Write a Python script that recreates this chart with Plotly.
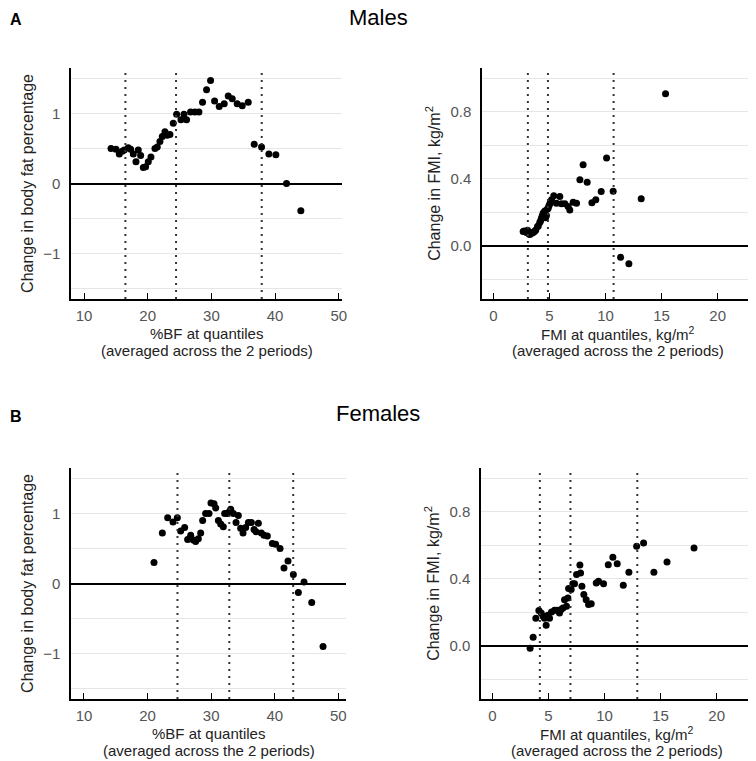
import plotly.graph_objects as go

# =========================================
# DATOS
# =========================================

# Hombres, %BF
males_bf_x = [14.24, 15.02, 15.54, 16.0, 16.33, 16.95, 17.32, 17.74, 18.16, 18.52, 18.89,
              19.31, 19.67, 20.09, 20.51, 21.14, 21.50, 21.92, 22.29, 22.71, 23.07, 23.49,
              24.01, 24.54, 25.22, 25.69, 26.10, 26.73, 27.41, 28.04, 28.61, 29.24, 29.87,
              30.50, 31.23, 32.01, 32.64, 33.27, 34.05, 34.84, 35.78, 36.72, 37.87, 39.02,
              40.12, 41.79, 44.04]
males_bf_y = [0.50, 0.49, 0.42, 0.46, 0.48, 0.51, 0.49, 0.42, 0.31, 0.48, 0.40,
              0.23, 0.24, 0.31, 0.38, 0.50, 0.52, 0.60, 0.67, 0.74, 0.69, 0.70,
              0.86, 0.99, 0.91, 0.99, 0.91, 1.02, 1.02, 1.02, 1.16, 1.34, 1.47,
              1.18, 1.10, 1.14, 1.25, 1.21, 1.14, 1.11, 1.16, 0.56, 0.52, 0.42,
              0.41, 0.0, -0.39]

# Hombres, FMI
males_fmi_x = [2.65, 2.75, 2.94, 3.05, 3.18, 3.25, 3.39, 3.50, 3.60, 3.70, 3.78, 3.93, 4.00,
               4.13, 4.20, 4.28, 4.35, 4.43, 4.50, 4.58, 4.65, 4.73, 4.80, 4.88, 4.95, 5.03,
               5.10, 5.18, 5.38, 5.62, 5.92, 6.07, 6.37, 6.66, 6.81, 7.11, 7.41, 7.71, 8.00,
               8.36, 8.78, 9.13, 9.61, 10.09, 10.68, 11.34, 12.08, 13.18, 15.35]
males_fmi_y = [0.087, 0.09, 0.081, 0.095, 0.073, 0.07, 0.077, 0.08, 0.085, 0.09, 0.097, 0.117, 0.12,
               0.141, 0.15, 0.166, 0.18, 0.196, 0.20, 0.21, 0.17, 0.182, 0.22, 0.226, 0.24, 0.252,
               0.26, 0.276, 0.30, 0.256, 0.295, 0.252, 0.252, 0.236, 0.216, 0.262, 0.256, 0.395, 0.484,
               0.381, 0.259, 0.276, 0.325, 0.524, 0.327, -0.066, -0.105, 0.282, 0.907]

# Mujeres, %BF
females_bf_x = [21.01, 22.32, 23.16, 24.0, 24.68, 25.2, 25.83, 26.3, 26.78, 27.2, 27.56,
                27.98, 28.35, 28.66, 29.13, 29.66, 29.97, 30.45, 30.71, 31.13, 31.49, 31.91,
                32.12, 32.54, 32.8, 33.07, 33.49, 33.91, 34.27, 34.64, 35.01, 35.43, 35.85,
                36.32, 36.74, 37.05, 37.42, 37.89, 38.31, 38.83, 39.62, 40.14, 40.83, 41.45,
                42.08, 42.92, 43.71, 44.6, 45.81, 47.59]
females_bf_y = [0.30, 0.72, 0.94, 0.88, 0.94, 0.75, 0.80, 0.63, 0.69, 0.62, 0.60,
                0.64, 0.72, 0.90, 1.0, 1.0, 1.15, 1.14, 1.08, 0.90, 0.85, 0.81,
                1.0, 1.0, 1.02, 1.06, 1.0, 0.87, 0.97, 0.79, 0.72, 0.80, 0.87,
                0.87, 0.77, 0.74, 0.86, 0.72, 0.69, 0.68, 0.57, 0.56, 0.50, 0.22,
                0.32, 0.13, -0.13, 0.02, -0.27, -0.90]

# Mujeres, FMI
females_fmi_x = [3.36, 3.63, 3.87, 4.14, 4.35, 4.52, 4.64, 4.79, 4.94, 5.09, 5.27, 5.54,
                 5.77, 5.98, 6.13, 6.28, 6.43, 6.61, 6.73, 6.79, 7.02, 7.17, 7.32, 7.50,
                 7.80, 7.86, 7.98, 8.15, 8.36, 8.57, 8.81, 9.26, 9.46, 9.91, 10.33, 10.74,
                 11.13, 11.67, 12.17, 12.86, 13.48, 14.40, 15.57, 17.98]
females_fmi_y = [-0.012, 0.053, 0.166, 0.212, 0.198, 0.178, 0.166, 0.125, 0.184, 0.166, 0.204, 0.214,
                 0.214, 0.198, 0.218, 0.228, 0.277, 0.238, 0.287, 0.343, 0.337, 0.372, 0.372, 0.426,
                 0.483, 0.436, 0.356, 0.307, 0.277, 0.248, 0.253, 0.376, 0.386, 0.372, 0.485, 0.529,
                 0.491, 0.362, 0.44, 0.594, 0.614, 0.44, 0.501, 0.584]

# Cortes de cuantiles (líneas punteadas)
males_bf_cuts = [16.5, 24.45, 37.9]
males_fmi_cuts = [3.07, 4.86, 10.72]
females_bf_cuts = [24.7, 32.85, 42.9]
females_fmi_cuts = [4.23, 6.96, 12.92]

# Ejes
bf_ticks = [-1.5, -1, -0.5, 0, 0.5, 1, 1.5]
bf_ticktext = ["", "\u22121", "", "0", "", "1", ""]
fmi_ticks = [-0.2, 0, 0.2, 0.4, 0.6, 0.8, 1.0]
fmi_ticktext = ["", "0.0", "", "0.4", "", "0.8", ""]

FONT = "Liberation Sans, Arial, sans-serif"
# la página deja 8 px de margen en el body: la figura ocupa el resto de la ventana
OFF = 8
W, H = 756 - OFF, 761 - OFF


def px_x(p):
    return max(p - OFF, 0) / W


def px_y(p):
    return 1 - (p - OFF) / H


# =========================================
# FIGURA
# =========================================

paneles = [
    # (x, y, cortes, xdom px, ydom px, xrange, yrange, ticks, textos, xtitulo, ytitulo)
    (males_bf_x, males_bf_y, males_bf_cuts, (71, 342), (68, 299), [7.96, 50.5],
     [-1.65, 1.65], bf_ticks, bf_ticktext,
     "%BF at quantiles", "Change in body fat percentage"),
    (males_fmi_x, males_fmi_y, males_fmi_cuts, (482, 753), (68, 299), [-1.02, 23.15],
     [-0.314, 1.06], fmi_ticks, fmi_ticktext,
     "FMI at quantiles, kg/m<sup>2</sup>", "Change in FMI, kg/m<sup>2</sup>"),
    (females_bf_x, females_bf_y, females_bf_cuts, (71, 346), (468, 699), [7.96, 51.2],
     [-1.65, 1.65], bf_ticks, bf_ticktext,
     "%BF at quantiles", "Change in body fat percentage"),
    (females_fmi_x, females_fmi_y, females_fmi_cuts, (481, 752), (468, 699), [-1.02, 23.15],
     [-0.314, 1.06], fmi_ticks, fmi_ticktext,
     "FMI at quantiles, kg/m<sup>2</sup>", "Change in FMI, kg/m<sup>2</sup>"),
]

fig = go.Figure()
layout = {}
shapes = []
annotations = []

for i, (xs, ys, cuts, xd, yd, xr, yr, tv, tt, xt, yt) in enumerate(paneles, start=1):
    sfx = "" if i == 1 else str(i)
    fig.add_trace(go.Scatter(
        x=xs, y=ys, mode="markers",
        marker=dict(color="black", size=7),
        xaxis="x" + sfx, yaxis="y" + sfx, showlegend=False,
    ))
    layout["xaxis" + sfx] = dict(
        domain=[px_x(xd[0]), px_x(xd[1])], range=xr, anchor="y" + sfx,
        dtick=10 if xr[1] > 30 else 5, tick0=0,
        showgrid=False, zeroline=False,
        showline=True, linecolor="black", linewidth=1.5,
        ticks="inside", ticklen=6, tickcolor="black", tickwidth=1.2,
        ticklabelstandoff=2,
        tickfont=dict(size=15, color="#555555"),
        automargin=False,
    )
    layout["yaxis" + sfx] = dict(
        domain=[px_y(yd[1]), px_y(yd[0])], range=yr, anchor="x" + sfx,
        tickvals=tv, ticktext=tt,
        showgrid=True, gridcolor="#e6e6e6", gridwidth=1,
        zeroline=True, zerolinecolor="black", zerolinewidth=1.5,
        showline=True, linecolor="black", linewidth=1.5,
        ticks="", ticklabelstandoff=6,
        tickfont=dict(size=15, color="#555555"),
        title=dict(text=yt, font=dict(size=16, color="#222222"), standoff=6),
        automargin=False,
    )
    for c in cuts:
        shapes.append(dict(
            type="line", xref="x" + sfx, yref="y" + sfx + " domain",
            x0=c, x1=c, y0=0, y1=1,
            line=dict(color="#333333", width=2, dash="2px,5px"),
            layer="above",
        ))
    # título del eje x en dos líneas
    xc = px_x((xd[0] + xd[1]) / 2)
    for texto, dy in [(xt, 34), ("(averaged across the 2 periods)", 51)]:
        annotations.append(dict(
            text=texto, x=xc, y=px_y(yd[1] + dy), xref="paper", yref="paper",
            showarrow=False, font=dict(size=15, color="#222222"),
            xanchor="center", yanchor="middle",
        ))

annotations += [
    dict(text="Males", x=px_x(378), y=px_y(18), xref="paper", yref="paper",
         showarrow=False, font=dict(size=22, color="black"), xanchor="center", yanchor="middle"),
    dict(text="<b>A</b>", x=0, y=px_y(20), xref="paper", yref="paper",
         showarrow=False, font=dict(size=16, color="black"), xanchor="left", yanchor="middle"),
    dict(text="Females", x=px_x(378), y=px_y(413), xref="paper", yref="paper",
         showarrow=False, font=dict(size=22, color="black"), xanchor="center", yanchor="middle"),
    dict(text="<b>B</b>", x=0, y=px_y(416), xref="paper", yref="paper",
         showarrow=False, font=dict(size=16, color="black"), xanchor="left", yanchor="middle"),
]

fig.update_layout(
    width=W, height=H,
    margin=dict(l=0, r=0, t=0, b=0),
    paper_bgcolor="white", plot_bgcolor="white",
    font=dict(family=FONT, color="#222222"),
    shapes=shapes, annotations=annotations,
    **layout,
)

fig.write_html("out.html")
